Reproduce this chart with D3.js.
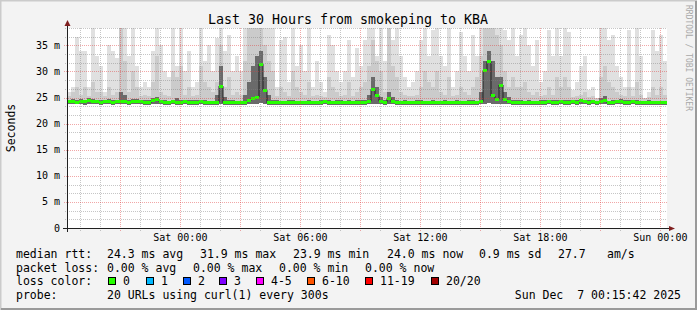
<!DOCTYPE html>
<html>
<head>
<meta charset="utf-8">
<script src="https://cdn.jsdelivr.net/npm/d3@7"></script>
<style>
  body { margin: 0; background: #f3f3f3; }
  svg text { font-family: "DejaVu Sans Mono", monospace; fill: #000; }
</style>
</head>
<body>
<svg id="chart" width="697" height="310"></svg>
<script>
// ---- data (one sample every 12 minutes) ----
const startTime = new Date(2025, 11, 5, 18, 20);
const stepMinutes = 12;

const medianRtt = [
  24.2, 24.3, 24.1, 24.3, 24.2, 24.5, 24.3, 24.2, 24.1, 24.2,
  24.3, 24.1, 24.2, 24.3, 24.2, 24.1, 24.2, 24.3, 24.2, 24.1,
  24.0, 24.4, 24.7, 24.2, 24.1, 24.0, 24.2, 24.1, 24.1, 24.2,
  24.0, 24.1, 24.1, 24.2, 24.1, 24.0, 24.0, 24.1, 27.2, 24.0,
  24.0, 24.1, 24.0, 24.0, 24.1, 24.4, 24.9, 25.1, 31.4, 26.4,
  24.0, 24.0, 24.1, 24.0, 24.0, 24.1, 24.1, 24.0, 24.0, 24.0,
  24.1, 24.0, 24.0, 24.1, 24.2, 24.1, 24.0, 24.1, 24.1, 24.0,
  24.1, 24.0, 24.1, 24.1, 24.1, 24.3, 26.6, 25.4, 24.3, 24.1,
  24.8, 24.2, 24.0, 24.0, 24.1, 24.0, 24.0, 24.1, 24.1, 24.0,
  24.0, 24.1, 24.0, 24.0, 24.1, 24.0, 24.0, 24.1, 24.0, 24.0,
  24.1, 24.1, 24.0, 24.2, 30.2, 31.9, 25.3, 24.7, 27.4, 24.6,
  24.2, 24.1, 24.1, 24.1, 24.0, 24.1, 24.0, 24.0, 24.1, 24.1,
  24.2, 24.1, 24.1, 24.2, 24.1, 24.1, 24.2, 24.1, 24.4, 24.2,
  24.1, 24.2, 24.0, 24.2, 24.4, 24.0, 24.1, 24.2, 24.3, 24.1,
  24.1, 24.2, 24.1, 24.0, 24.0, 24.1, 24.0, 24.0, 24.0, 24.0
];

const minRtt = [
  23.7, 23.8, 23.7, 23.7, 23.6, 23.8, 23.7, 23.7, 23.6, 23.7,
  23.7, 23.6, 23.7, 23.7, 23.7, 23.6, 23.7, 23.7, 23.7, 23.6,
  23.6, 23.7, 23.8, 23.7, 23.6, 23.6, 23.7, 23.6, 23.6, 23.7,
  23.6, 23.6, 23.6, 23.7, 23.6, 23.6, 23.5, 23.6, 23.7, 23.5,
  23.6, 23.6, 23.5, 23.6, 23.6, 23.7, 23.8, 23.8, 23.9, 23.7,
  23.5, 23.6, 23.6, 23.5, 23.6, 23.6, 23.6, 23.5, 23.6, 23.6,
  23.6, 23.5, 23.6, 23.6, 23.7, 23.6, 23.5, 23.6, 23.6, 23.5,
  23.6, 23.6, 23.6, 23.6, 23.6, 23.7, 23.8, 23.7, 23.7, 23.6,
  23.8, 23.7, 23.6, 23.5, 23.6, 23.5, 23.6, 23.6, 23.6, 23.5,
  23.6, 23.6, 23.5, 23.6, 23.6, 23.5, 23.6, 23.6, 23.5, 23.6,
  23.6, 23.6, 23.5, 23.7, 23.8, 23.9, 23.7, 23.7, 23.8, 23.7,
  23.7, 23.6, 23.6, 23.6, 23.5, 23.6, 23.6, 23.5, 23.6, 23.6,
  23.7, 23.6, 23.6, 23.7, 23.6, 23.6, 23.7, 23.6, 23.8, 23.7,
  23.6, 23.7, 23.5, 23.7, 23.8, 23.5, 23.6, 23.7, 23.7, 23.6,
  23.6, 23.7, 23.6, 23.5, 23.5, 23.6, 23.5, 23.5, 23.5, 23.5
];

// darkest smoke band (upper edge)
const smokeCore = [
  24.6, 24.7, 24.6, 24.7, 24.6, 24.9, 24.7, 24.6, 24.6, 24.6,
  24.7, 24.6, 24.6, 26.0, 25.5, 24.6, 24.7, 24.7, 24.6, 24.5,
  24.5, 24.9, 25.2, 24.6, 24.5, 24.4, 24.6, 25.0, 24.6, 24.6,
  24.5, 24.5, 24.5, 24.6, 24.5, 24.4, 24.4, 25.5, 31.0, 25.2,
  24.5, 24.5, 24.4, 24.4, 25.5, 28.0, 31.0, 33.0, 34.0, 29.0,
  25.5, 24.6, 24.5, 24.4, 24.4, 24.5, 24.6, 24.4, 24.4, 24.4,
  24.5, 24.4, 24.4, 24.5, 24.6, 24.5, 24.4, 24.5, 24.5, 24.4,
  24.5, 24.4, 24.5, 24.5, 24.6, 25.5, 29.0, 27.0, 25.2, 24.5,
  26.0, 25.2, 24.5, 24.4, 24.5, 24.4, 24.4, 24.5, 24.5, 24.4,
  24.4, 24.5, 24.4, 24.4, 24.5, 24.4, 24.4, 24.5, 24.4, 24.4,
  24.5, 24.5, 24.4, 26.0, 32.0, 34.0, 32.0, 29.0, 29.0, 26.0,
  25.2, 24.5, 24.5, 24.5, 24.4, 24.5, 24.4, 24.4, 24.5, 24.5,
  24.6, 24.5, 24.5, 24.6, 24.5, 24.5, 24.6, 24.5, 24.8, 24.6,
  24.5, 24.6, 24.4, 25.0, 25.3, 24.4, 24.5, 24.6, 24.7, 24.5,
  24.5, 24.6, 24.5, 24.4, 24.4, 24.5, 24.4, 24.4, 24.4, 24.4
];

// medium smoke band (upper edge)
const smokeHigh = [
  25.3, 26, 27, 25.5, 27, 25.3, 28, 26, 26, 25.3,
  27, 25.5, 26, 39, 32, 26, 30, 27, 25.3, 25.5,
  25.3, 28, 33, 26, 25.5, 25.3, 30, 29, 31, 25.5,
  27, 25.3, 25.5, 31, 28, 27, 26, 28, 35, 27,
  29, 25.5, 26, 25.5, 32, 39, 39, 39, 39, 35,
  32, 30, 25.3, 27, 26, 25.3, 30, 27, 26, 25.5,
  28, 25.3, 25.5, 25.3, 25.2, 29, 27, 26, 25.3, 25.5,
  28, 25.3, 26, 27, 28, 31, 36, 32, 30, 26,
  39, 31, 29, 26, 25.5, 25.3, 25.3, 25.5, 27, 30,
  28, 27, 30, 26, 25.5, 29, 25.3, 25.5, 27, 26,
  25.5, 27, 29, 33, 39, 39, 39, 37, 35, 30,
  27, 29, 27, 27, 28, 26, 25.5, 26, 25.3, 25.5,
  27, 25.5, 29, 27, 29, 27, 25.2, 25.3, 25.5, 26,
  25.2, 25.3, 24.9, 29, 31, 28, 27, 26, 25.5, 25.3,
  27, 25.3, 28, 25.5, 24.9, 25.1, 27, 25.5, 27, 25.5
];

// lightest smoke band (slowest ping)
const smokeMax = [
  26, 27, 36.7, 34, 34, 27, 39, 33, 31, 26,
  35, 34, 32.5, 39, 39, 33, 39, 31, 27, 28,
  27, 34, 39, 35, 30, 29, 39, 31, 39, 30,
  34, 27, 28, 39, 32, 35, 30, 36.4, 39, 34,
  37, 30, 33, 30, 39, 39, 39, 39, 39, 39,
  39, 39, 27, 36, 36.7, 28, 39, 31, 35, 30,
  39, 27, 32, 28, 26, 37, 35, 30, 28, 30,
  36, 29, 34.5, 31, 36, 39, 39, 33, 39, 32,
  39, 36, 39, 33, 29, 27, 28, 30, 36, 39,
  33, 38, 39, 33, 31, 39, 27, 30, 37.5, 33,
  30, 37, 33, 39, 39, 39, 39, 39, 39, 38,
  36, 39, 33, 37, 39, 35, 31, 36, 28, 30,
  38, 33, 39, 33, 39, 37.5, 26.5, 28, 31, 33,
  26.5, 27, 25, 39, 39, 36, 37, 31, 29, 27,
  38, 27, 39, 33, 25, 26, 38, 34, 37, 32
];

const yTickValues = [0, 5, 10, 15, 20, 25, 30, 35];
const xLabelTimes = [
  new Date(2025, 11, 6, 0, 0), new Date(2025, 11, 6, 6, 0),
  new Date(2025, 11, 6, 12, 0), new Date(2025, 11, 6, 18, 0),
  new Date(2025, 11, 7, 0, 0)
];

const titleText = "Last 30 Hours from smokeping to KBA";
const rttStats = ["24.3 ms avg", "31.9 ms max", "23.9 ms min", "24.0 ms now", "0.9 ms sd", "27.7", "am/s"];
const lossStats = ["0.00 % avg", "0.00 % max", "0.00 % min", "0.00 % now"];
const lossLabels = ["0", "1", "2", "3", "4-5", "6-10", "11-19", "20/20"];
const lossColors = ["#26ff00", "#00b8ff", "#0059ff", "#7e00ff", "#ff00ff", "#ff5500", "#ff0000", "#a10000"];
const probeText = "20 URLs using curl(1) every 300s";
const stampText = "Sun Dec  7 00:15:42 2025";

// ---- layout ----
const W = 697, H = 310;
const plot = { left: 67, right: 667, top: 28, bottom: 228 };
const rttX = [107, 200, 293, 387, 479, 558, 607];
const lossX = [107, 193, 279, 365];
const boxX = [108, 146, 183, 219, 256, 307, 365, 431];

let svg = d3.select("#chart");

// background + 3d border
svg.append("rect").attr("width", W).attr("height", H).attr("fill", "#f3f3f3");
svg.append("path").attr("d", `M0,${H} V0 H${W}`).attr("fill", "none")
  .attr("stroke", "#cbcbcb").attr("stroke-width", 3);
svg.append("path").attr("d", `M1,${H - 1} H${W - 1} V1`).attr("fill", "none")
  .attr("stroke", "#9a9a9a").attr("stroke-width", 2);

svg.append("rect")
  .attr("x", plot.left).attr("y", plot.top)
  .attr("width", plot.right - plot.left).attr("height", plot.bottom - plot.top)
  .attr("fill", "#fff");

let x = d3.scaleTime()
  .domain([startTime, d3.timeHour.offset(startTime, 30)])
  .range([plot.left, plot.right]);

let y = d3.scaleLinear()
  .domain([0, 38.33])
  .range([plot.bottom, plot.top]);

svg.append("clipPath").attr("id", "clip")
  .append("rect")
  .attr("x", plot.left).attr("y", plot.top)
  .attr("width", plot.right - plot.left).attr("height", plot.bottom - plot.top);

let samples = medianRtt.map((m, i) => ({
  t0: d3.timeMinute.offset(startTime, i * stepMinutes),
  t1: d3.timeMinute.offset(startTime, (i + 1) * stepMinutes),
  median: m, min: minRtt[i], core: smokeCore[i], high: smokeHigh[i], max: smokeMax[i]
}));

let graph = svg.append("g").attr("clip-path", "url(#clip)");

// smoke, lightest band first
[["max", "#e0e0e0"], ["high", "#cbcbcb"], ["core", "#6a6a6a"]].forEach(([key, col]) => {
  graph.append("g").attr("shape-rendering", "crispEdges")
    .selectAll("rect").data(samples).enter().append("rect")
    .attr("x", d => x(d.t0))
    .attr("width", d => x(d.t1) - x(d.t0))
    .attr("y", d => y(d[key]))
    .attr("height", d => y(d.min) - y(d[key]))
    .attr("fill", col);
});

// grid on top of the smoke, dotted
let grid = svg.append("g").attr("shape-rendering", "crispEdges");
const minorCol = "rgba(128,128,128,0.45)";
const majorCol = "rgba(225,60,60,0.45)";

x.ticks(d3.timeHour.every(1)).forEach(t => {
  let major = t.getHours() % 3 === 0;
  let px = Math.round(x(t)) + 0.5;
  grid.append("line")
    .attr("x1", px).attr("x2", px).attr("y1", plot.top).attr("y2", plot.bottom + 3)
    .attr("stroke", major ? majorCol : minorCol)
    .attr("stroke-dasharray", "1,1");
});

d3.range(0, 39, 5 / 3).forEach((v, i) => {
  if (v === 0) return;
  let major = i % 3 === 0;
  let py = Math.round(y(v)) + 0.5;
  grid.append("line")
    .attr("x1", plot.left - (major ? 3 : 2)).attr("x2", plot.right)
    .attr("y1", py).attr("y2", py)
    .attr("stroke", major ? majorCol : minorCol)
    .attr("stroke-dasharray", "1,1");
});

// median: thin dark line, then loss-colour band
graph.append("path")
  .datum(samples)
  .attr("fill", "none")
  .attr("stroke", "#202020")
  .attr("stroke-width", 1)
  .attr("d", d3.line()
    .x(d => x(d.t0) + (x(d.t1) - x(d.t0)) / 2)
    .y(d => y(d.median))
    .curve(d3.curveStep));

graph.append("g").attr("shape-rendering", "crispEdges")
  .selectAll("rect").data(samples).enter().append("rect")
  .attr("x", d => x(d.t0))
  .attr("width", d => x(d.t1) - x(d.t0))
  .attr("y", d => y(d.median) - 1.5)
  .attr("height", 3)
  .attr("fill", lossColors[0]);

// axes
let axes = svg.append("g");
axes.append("line")
  .attr("x1", plot.left - 4).attr("x2", plot.right + 3)
  .attr("y1", plot.bottom + 0.5).attr("y2", plot.bottom + 0.5)
  .attr("stroke", "#202020");
axes.append("line")
  .attr("x1", plot.left + 0.5).attr("x2", plot.left + 0.5)
  .attr("y1", plot.bottom + 4).attr("y2", plot.top - 3)
  .attr("stroke", "#202020");
axes.append("path")
  .attr("d", `M${plot.right + 2},${plot.bottom - 2} L${plot.right + 8},${plot.bottom + 0.5} L${plot.right + 2},${plot.bottom + 3} Z`)
  .attr("fill", "#7f1f1f");
axes.append("path")
  .attr("d", `M${plot.left - 2.5},${plot.top - 2} L${plot.left + 0.5},${plot.top - 8} L${plot.left + 3.5},${plot.top - 2} Z`)
  .attr("fill", "#7f1f1f");

// y labels
svg.append("g").selectAll("text").data(yTickValues).enter().append("text")
  .attr("x", 60)
  .attr("y", d => y(d))
  .attr("dy", "0.35em")
  .attr("text-anchor", "end")
  .style("font-size", "10px")
  .text(d => d === 0 ? "0" : d + " m");

// x labels
let fmt = d3.timeFormat("%a %H:%M");
svg.append("g").selectAll("text").data(xLabelTimes).enter().append("text")
  .attr("x", d => x(d))
  .attr("y", 241)
  .attr("text-anchor", "middle")
  .style("font-size", "10px")
  .text(d => fmt(d));

// title, unit, watermark
svg.append("text").attr("x", 348).attr("y", 24).attr("text-anchor", "middle")
  .style("font-size", "13.3px").text(titleText);

svg.append("text")
  .attr("transform", "translate(15,128) rotate(-90)")
  .attr("text-anchor", "middle")
  .style("font-size", "11.5px")
  .text("Seconds");

svg.append("text")
  .attr("transform", "translate(686,5) rotate(90)")
  .style("font-size", "8px")
  .style("fill", "#a8a8a8")
  .text("RRDTOOL / TOBI OETIKER");

// legend
let legend = svg.append("g").style("font-size", "11.5px").attr("xml:space", "preserve");
const rows = [258, 271.5, 285, 298.5];

legend.append("text").attr("x", 16).attr("y", rows[0]).text("median rtt:");
rttStats.forEach((s, i) => legend.append("text").attr("x", rttX[i]).attr("y", rows[0]).text(s));

legend.append("text").attr("x", 16).attr("y", rows[1]).text("packet loss:");
lossStats.forEach((s, i) => legend.append("text").attr("x", lossX[i]).attr("y", rows[1]).text(s));

legend.append("text").attr("x", 16).attr("y", rows[2]).text("loss color:");
lossLabels.forEach((s, i) => {
  legend.append("rect")
    .attr("x", boxX[i] + 0.5).attr("y", rows[2] - 7.5)
    .attr("width", 7).attr("height", 7)
    .attr("fill", lossColors[i]).attr("stroke", "#000");
  legend.append("text").attr("x", boxX[i] + 15).attr("y", rows[2]).text(s);
});

legend.append("text").attr("x", 16).attr("y", rows[3]).text("probe:");
legend.append("text").attr("x", 107).attr("y", rows[3]).text(probeText);
legend.append("text").attr("x", 681).attr("y", rows[3]).attr("text-anchor", "end")
  .style("white-space", "pre").text(stampText);
</script>
</body>
</html>
